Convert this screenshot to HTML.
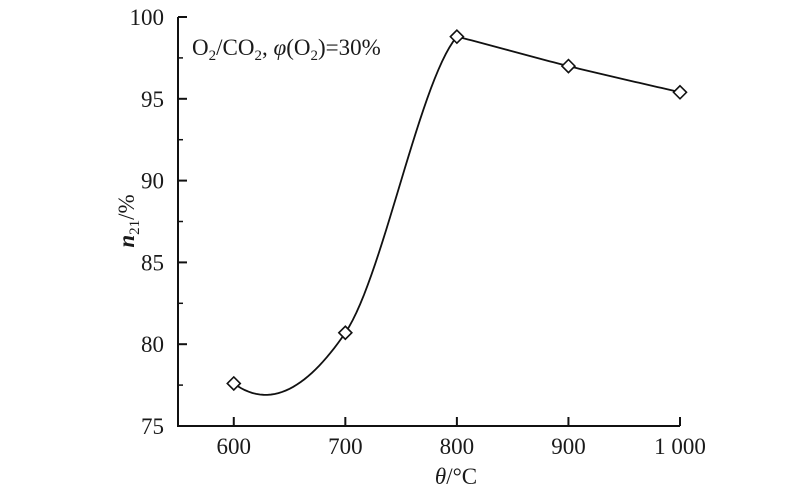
<!DOCTYPE html>
<html><head><meta charset="utf-8"><style>
body{margin:0;background:#fff;}
svg text{font-family:"Liberation Serif",serif;fill:#1a1a1a;}
</style></head><body>
<svg width="800" height="496" viewBox="0 0 800 496">
<g id="axes"></g>
<g id="marks"></g>
<text x="192" y="55" font-size="23">O<tspan font-size="15" dy="5">2</tspan><tspan dy="-5">/CO</tspan><tspan font-size="15" dy="5">2</tspan><tspan dy="-5">, </tspan><tspan font-style="italic">φ</tspan>(O<tspan font-size="15" dy="5">2</tspan><tspan dy="-5">)=30%</tspan></text>
<text x="456" y="484" font-size="23" text-anchor="middle"><tspan font-style="italic">θ</tspan>/°C</text>
<text transform="translate(134,221) rotate(-90)" font-size="23" text-anchor="middle"><tspan font-style="italic" font-weight="bold">n</tspan><tspan font-size="15" dy="5">21</tspan><tspan dy="-5">/%</tspan></text>
</svg>
<script>
const categories=[600,700,800,900,1000];
const values=[77.6,80.7,98.8,97.0,95.4];
const outTangents=[-5,10,-1.7,-1.7];
const inTangents=[10,8,-1.7,-1.6];
const xTicks=[600,700,800,900,1000];
const xTickLabels=["600","700","800","900","1 000"];
const yTicks=[75,80,85,90,95,100];
const yTickLabels=["75","80","85","90","95","100"];
const X0=178,X1=680,Y0=426,Y1=17;
const xs=v=>X0+(v-550)/(1000-550)*(X1-X0);
const ys=v=>Y0-(v-75)/(100-75)*(Y0-Y1);
const NS="http://www.w3.org/2000/svg";
const ax=document.getElementById('axes'),mk=document.getElementById('marks');
function mkEl(t,a,p){const e=document.createElementNS(NS,t);for(const k in a)e.setAttribute(k,a[k]);p.appendChild(e);return e;}
const xa=mkEl('path',{d:`M${X0},${Y1}V${Y0}H${X1}`,stroke:'#111','stroke-width':2,fill:'none'},ax);


xTicks.forEach((v,i)=>{
  const l=mkEl('line',{x1:xs(v),x2:xs(v),y1:Y0,y2:Y0-9,stroke:'#111','stroke-width':2},ax);
  
  
  const t=mkEl('text',{x:xs(v),y:Y0+28,'font-size':23,'text-anchor':'middle'},ax);
  t.textContent=xTickLabels[i];
  
  
});
yTicks.forEach((v,i)=>{
  const l=mkEl('line',{x1:X0,x2:X0+9,y1:ys(v),y2:ys(v),stroke:'#111','stroke-width':2},ax);
  
  
  if(i<yTicks.length-1){const m=mkEl('line',{x1:X0,x2:X0+5,y1:ys(v+2.5),y2:ys(v+2.5),stroke:'#111','stroke-width':1.5},ax);
  
  }
  const t=mkEl('text',{x:X0-14,y:ys(v)+8,'font-size':23,'text-anchor':'end'},ax);
  t.textContent=yTickLabels[i];
  
  
});
let d=`M${xs(categories[0])},${ys(values[0])}`;
for(let i=0;i<categories.length-1;i++){
  for(let s=1;s<=30;s++){const t=s/30,t2=t*t,t3=t2*t;
    const v=(2*t3-3*t2+1)*values[i]+(t3-2*t2+t)*outTangents[i]+(-2*t3+3*t2)*values[i+1]+(t3-t2)*inTangents[i];
    const c=categories[i]+t*(categories[i+1]-categories[i]);
    d+=`L${xs(c).toFixed(2)},${ys(v).toFixed(2)}`;}
}
const ln=mkEl('path',{d:d,stroke:'#111','stroke-width':1.8,fill:'none'},mk);


categories.forEach((c,i)=>{
  const x=xs(c),y=ys(values[i]),r=6.5;
  const p=mkEl('path',{d:`M${x},${y-r}L${x+r},${y}L${x},${y+r}L${x-r},${y}Z`,fill:'#fff',stroke:'#111','stroke-width':1.6},mk);
  
  
});
</script>
</body></html>
